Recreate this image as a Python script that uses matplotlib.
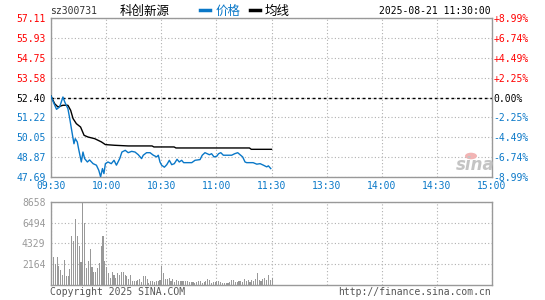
import numpy as np
import matplotlib
matplotlib.use("Agg")
import matplotlib.pyplot as plt
from matplotlib.lines import Line2D
from matplotlib.patches import Circle

# ---------------- data ----------------
prev_close = 52.40
price_ticks = [47.69, 48.87, 50.05, 51.22, 52.40, 53.58, 54.75, 55.93, 57.11]
price_tick_labels = ["47.69", "48.87", "50.05", "51.22", "52.40", "53.58", "54.75", "55.93", "57.11"]
pct_tick_labels = ["-8.99%", "-6.74%", "-4.49%", "-2.25%", "0.00%", "+2.25%", "+4.49%", "+6.74%", "+8.99%"]
time_ticks = [0, 30, 60, 90, 120, 150, 180, 210, 240]
time_labels = ["09:30", "10:00", "10:30", "11:00", "11:30", "13:30", "14:00", "14:30", "15:00"]
vol_ticks = [2164, 4329, 6494, 8658]
vol_tick_labels = ["2164", "4329", "6494", "8658"]

price_min = [0, 1, 3, 4.7, 6.5, 7.5, 9.2, 10.2, 11.4, 12.5, 13.2, 14.3, 15, 16.5, 17.4,
             18.3, 19.8, 21, 22.9, 24.7, 26, 27, 28, 28.8, 29.6, 31, 32.8, 34.3, 35.6,
             37.4, 38.6, 40.4, 42, 43.9, 45.7, 47.5, 49.3, 50.2, 52, 53.9, 55.7, 57.5,
             58.4, 59.3, 60.2, 61.7, 63, 64.4, 65.7, 67.1, 68.6, 69.8, 71.1, 72.2, 73.8,
             76.6, 78.4, 81.1, 82.3, 83.8, 86.2, 87.4, 88.7, 90.2, 91.2, 92.4, 93.8,
             95.6, 98.3, 100, 101.6, 102.9, 104.3, 105.6, 106.5, 110, 112, 113.8, 115.6,
             117.4, 118.3, 119.6]
price = [52.49, 52.20, 51.70, 51.84, 52.43, 52.13, 51.74, 51.15, 50.36, 49.66,
         49.96, 49.77, 49.37, 48.58, 49.17, 48.78, 48.58, 48.70, 48.48, 48.39,
         48.09, 47.70, 48.19, 47.89, 48.48, 48.58, 48.48, 48.68, 48.39, 48.78,
         49.17, 49.27, 49.13, 49.21, 49.17, 49.01, 48.78, 48.98, 49.13, 49.13,
         48.98, 48.88, 48.98, 48.58, 48.39, 48.27, 48.42, 48.68, 48.42, 48.48,
         48.74, 48.58, 48.68, 48.54, 48.54, 48.54, 48.68, 48.72, 48.98, 49.13,
         49.01, 49.07, 48.88, 48.92, 49.07, 49.13, 48.98, 48.98, 48.98, 49.07,
         49.13, 49.01, 48.88, 48.58, 48.54, 48.54, 48.45, 48.48, 48.39, 48.29,
         48.35, 48.19]

avg_min = [0, 2, 3.8, 6.5, 9.2, 10.7, 12, 13.8, 16.1, 18, 20.1, 23.8, 27.4, 29.6,
           34.6, 42, 55, 56, 67, 68, 108, 109, 120]
avg_price = [52.49, 52.03, 51.84, 51.94, 51.94, 51.64, 51.15, 50.85, 50.65, 50.16,
             50.06, 49.96, 49.77, 49.61, 49.57, 49.53, 49.53, 49.47, 49.47, 49.41,
             49.41, 49.33, 49.33]

volume = [833, 2915, 2186, 2915, 1943, 1596, 1006, 2603, 937, 937,
          1666, 5066, 4615, 6871, 5066, 4060, 2394, 8658, 6454, 1770,
          2499, 3782, 1839, 1353, 1353, 1770, 2290, 4090, 5100, 2500,
          1870, 1249, 729, 1353, 1076, 729, 1215, 1006, 1353, 1353,
          1006, 902, 659,
          1006, 382, 382, 451, 555, 625, 312, 937, 937, 625,
          208, 382, 451, 312, 382, 382, 555, 1943, 1249, 625,
          625, 729, 382, 590, 312, 555, 451, 382, 382, 382,
          451, 451, 312, 312, 312, 243, 312, 382, 451,
          208, 312, 451, 625, 555, 243, 312, 312, 451, 382,
          312, 243, 243, 208, 243, 312, 555, 555, 312, 312,
          451, 382, 312, 659, 451, 555, 312, 555, 382, 625,
          1249, 555, 451, 659, 729, 555, 1006, 555, 729]

# ---------------- style ----------------
W, H = 545, 300
BLUE = "#0a78c8"
RED = "#ff0000"
GRAY = "#999999"
GRID = "#b0b0b0"
MONO = "DejaVu Sans Mono"
CJK = ["Noto Sans CJK SC", "DejaVu Sans"]

fig = plt.figure(figsize=(W / 100, H / 100), dpi=100)
fig.patch.set_facecolor("white")

def fx(px):
    return px / W

def fy(py):
    return 1 - py / H

# price axes
ax = fig.add_axes([fx(51), fy(177), fx(492) - fx(51), fy(18) - fy(177)])
ax.set_xlim(0, 240)
ax.set_ylim(price_ticks[0], price_ticks[-1])
ax.grid(True, linestyle=(0, (1, 2)), color=GRID, linewidth=0.8)
ax.set_axisbelow(True)
ax.axhline(prev_close, color="black", linestyle=(0, (2, 2)), linewidth=1.0, zorder=2)
ax.plot(avg_min, avg_price, color="black", linewidth=1.0, zorder=3)
ax.plot(price_min, price, color=BLUE, linewidth=1.0, zorder=4)

ax.set_yticks(price_ticks)
ax.set_yticklabels(price_tick_labels, fontfamily=MONO, fontsize=7)
for lbl, v in zip(ax.get_yticklabels(), price_ticks):
    lbl.set_color(RED if v > prev_close + 1e-6 else ("black" if abs(v - prev_close) < 1e-6 else BLUE))
ax.set_xticks(time_ticks)
ax.set_xticklabels(time_labels, fontfamily=MONO, fontsize=7, color=BLUE)
ax.tick_params(axis="both", length=0)
ax.tick_params(axis="y", pad=4)
ax.tick_params(axis="x", pad=3)
for s in ax.spines.values():
    s.set_color(GRAY)
    s.set_linewidth(1.0)

ax2 = ax.twinx()
ax2.set_ylim(price_ticks[0], price_ticks[-1])
ax2.set_yticks(price_ticks)
ax2.set_yticklabels(pct_tick_labels, fontfamily=MONO, fontsize=7)
for lbl, v in zip(ax2.get_yticklabels(), price_ticks):
    lbl.set_color(RED if v > prev_close + 1e-6 else ("black" if abs(v - prev_close) < 1e-6 else BLUE))
ax2.tick_params(axis="y", length=0, pad=1)
for s in ax2.spines.values():
    s.set_visible(False)

# sina watermark
fig.patches.append(Circle((fx(471), fy(156)), 0.011, transform=fig.transFigure,
                          facecolor="#f2b4b4", edgecolor="none"))
fig.text(fx(475), fy(165), "sina", fontsize=12, fontstyle="italic", fontweight="bold",
         color="#c4c4c4", ha="center", va="center")

# volume axes
axv = fig.add_axes([fx(51), fy(285), fx(492) - fx(51), fy(201.7) - fy(285)])
axv.set_xlim(0, 240)
axv.set_ylim(0, vol_ticks[-1])
axv.bar(np.arange(len(volume)), volume, width=0.6, color=GRAY, align="edge", linewidth=0)
axv.set_yticks(vol_ticks)
axv.set_yticklabels(vol_tick_labels, fontfamily=MONO, fontsize=7, color=GRAY)
axv.set_xticks(time_ticks)
axv.set_xticklabels([])
axv.grid(True, linestyle=(0, (1, 2)), color=GRID, linewidth=0.8)
axv.set_axisbelow(True)
axv.tick_params(axis="both", length=0)
axv.tick_params(axis="y", pad=4)
for s in axv.spines.values():
    s.set_color(GRAY)
    s.set_linewidth(1.0)

# header
fig.text(fx(50), fy(11), "sz300731", fontfamily=MONO, fontsize=7, color="#333333", va="center")
fig.text(fx(120), fy(11), "科创新源", family=CJK, fontsize=9, color="black", va="center")
fig.add_artist(Line2D([fx(200), fx(210)], [fy(10), fy(10)], transform=fig.transFigure,
                      color=BLUE, linewidth=2.5))
fig.text(fx(216), fy(11), "价格", family=CJK, fontsize=9, color=BLUE, va="center")
fig.add_artist(Line2D([fx(250), fx(260)], [fy(10), fy(10)], transform=fig.transFigure,
                      color="black", linewidth=2.5))
fig.text(fx(265), fy(11), "均线", family=CJK, fontsize=9, color="black", va="center")
fig.text(fx(491), fy(11), "2025-08-21 11:30:00", fontfamily=MONO, fontsize=7,
         color="black", ha="right", va="center")

# footer
fig.text(fx(50), fy(292), "Copyright 2025 SINA.COM", fontfamily=MONO, fontsize=7,
         color="#555555", va="center")
fig.text(fx(491), fy(292), "http://finance.sina.com.cn", fontfamily=MONO, fontsize=7,
         color="#555555", ha="right", va="center")

fig.savefig("out.png", dpi=100)
